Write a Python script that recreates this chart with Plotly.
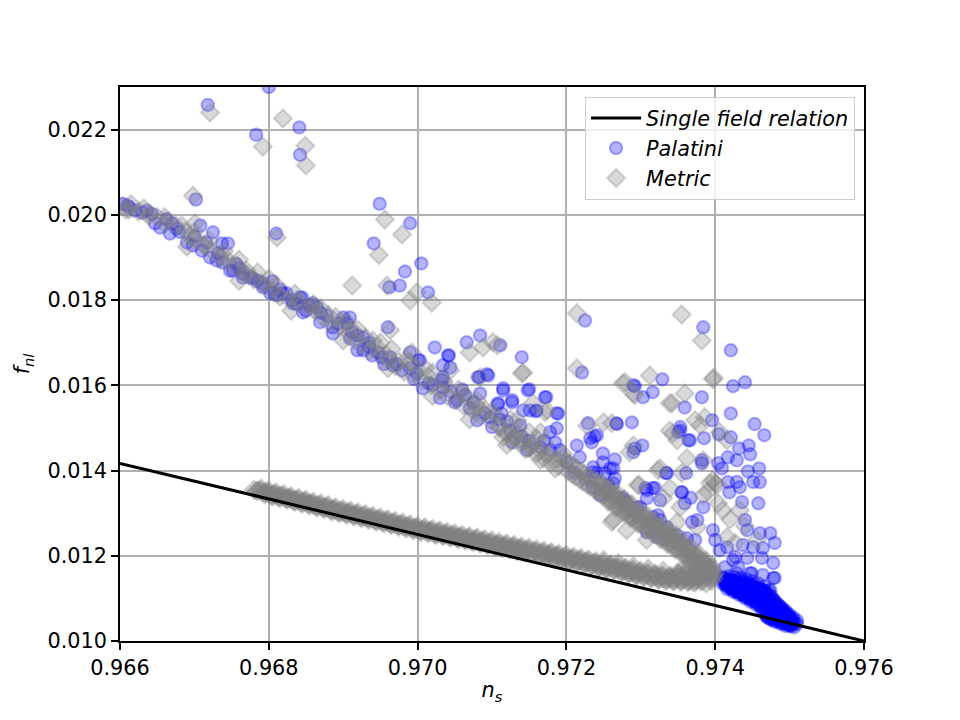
import plotly.graph_objects as go

# ---------------- data ----------------
# single-field consistency relation, end points
relation_ns = [0.966, 0.976]
relation_fnl = [0.014167, 0.010]

# Palatini: main diagonal band
palatini_band = [
    (0.96604, 0.02026), (0.96613, 0.02017), (0.96630, 0.02005), (0.96643, 0.02002), (0.96647, 0.01980),
    (0.96654, 0.01970), (0.96670, 0.01980), (0.96667, 0.01956), (0.96690, 0.01935), (0.96698, 0.01928),
    (0.96708, 0.01975), (0.96725, 0.01959), (0.96737, 0.01933), (0.96745, 0.01933), (0.96710, 0.01916),
    (0.96721, 0.01900), (0.96730, 0.01893), (0.96738, 0.01888), (0.96752, 0.01869), (0.96765, 0.01853),
    (0.96775, 0.01853), (0.96791, 0.01839), (0.96802, 0.01816), (0.96811, 0.01811), (0.96819, 0.01816),
    (0.96831, 0.01799), (0.96845, 0.01806), (0.96859, 0.01792), (0.96878, 0.01764), (0.96900, 0.01759),
    (0.96909, 0.01759), (0.96748, 0.01869), (0.96765, 0.01862), (0.96779, 0.01851), (0.96792, 0.01830),
    (0.96808, 0.01816), (0.96824, 0.01816), (0.96842, 0.01806), (0.96833, 0.01792), (0.96855, 0.01787),
    (0.96846, 0.01771), (0.96865, 0.01783), (0.96869, 0.01748), (0.96886, 0.01736), (0.96886, 0.01722),
    (0.96905, 0.01745), (0.96909, 0.01710), (0.96919, 0.01717), (0.96927, 0.01712), (0.96919, 0.01682),
    (0.96927, 0.01682), (0.96939, 0.01670), (0.96947, 0.01677), (0.96963, 0.01666), (0.96967, 0.01647),
    (0.96979, 0.01635), (0.96990, 0.01640), (0.96999, 0.01628), (0.97007, 0.01593), (0.97001, 0.01659),
    (0.97041, 0.01670), (0.97044, 0.01642), (0.97033, 0.01612), (0.97034, 0.01595), (0.97030, 0.01570),
    (0.97053, 0.01565), (0.97034, 0.01619), (0.97050, 0.01560), (0.97064, 0.01577), (0.97095, 0.01623),
    (0.97081, 0.01619), (0.97070, 0.01546), (0.97097, 0.01525), (0.97080, 0.01518), (0.97100, 0.01502),
    (0.97108, 0.01558), (0.97127, 0.01565), (0.97115, 0.01588), (0.97148, 0.01588), (0.97171, 0.01572),
    (0.97142, 0.01541), (0.97160, 0.01541), (0.97187, 0.01534), (0.97113, 0.01534), (0.97124, 0.01494),
    (0.97138, 0.01506), (0.97128, 0.01466), (0.97147, 0.01448), (0.97165, 0.01455), (0.97178, 0.01490),
    (0.97187, 0.01499), (0.97185, 0.01466), (0.97178, 0.01448), (0.97191, 0.01448), (0.97214, 0.01459),
    (0.97234, 0.01466), (0.97218, 0.01431), (0.97236, 0.01408), (0.97249, 0.01419), (0.97259, 0.01405),
    (0.97265, 0.01382), (0.97241, 0.01394), (0.97256, 0.01366), (0.97236, 0.01361), (0.97245, 0.01342),
    (0.97272, 0.01335), (0.97281, 0.01326), (0.97299, 0.01314), (0.97308, 0.01335), (0.97326, 0.01330),
    (0.97316, 0.01291), (0.97326, 0.01284), (0.97292, 0.01452), (0.97335, 0.01394), (0.97316, 0.01359),
    (0.97252, 0.01394), (0.97263, 0.01370), (0.97276, 0.01335), (0.97295, 0.01314), (0.97306, 0.01359),
    (0.97323, 0.01295), (0.97335, 0.01267), (0.97355, 0.01349), (0.97359, 0.01323), (0.97369, 0.01279),
    (0.97376, 0.01284), (0.97384, 0.01314), (0.97397, 0.01260), (0.97400, 0.01237), (0.97362, 0.01241),
    (0.97373, 0.01237), (0.97349, 0.01248), (0.97335, 0.01237), (0.97322, 0.01244), (0.97308, 0.01255),
    (0.97406, 0.01213), (0.97416, 0.01220), (0.97424, 0.01190), (0.97447, 0.01159), (0.97431, 0.01173),
    (0.97413, 0.01173), (0.97478, 0.01148), (0.96620, 0.02010), (0.96680, 0.01960), (0.96760, 0.01875),
    (0.96850, 0.01775), (0.96935, 0.01700), (0.96955, 0.01650), (0.97015, 0.01605), (0.97060, 0.01590),
    (0.97110, 0.01520), (0.97150, 0.01470), (0.97200, 0.01420), (0.97210, 0.01395), (0.97225, 0.01380),
    (0.96610, 0.02022), (0.96636, 0.02010), (0.96662, 0.01990), (0.96676, 0.01968), (0.96700, 0.01950),
    (0.96716, 0.01935), (0.96732, 0.01910), (0.96756, 0.01885), (0.96785, 0.01845), (0.96815, 0.01825),
    (0.96838, 0.01790), (0.96870, 0.01770), (0.96893, 0.01745), (0.96912, 0.01725), (0.96935, 0.01690),
    (0.96952, 0.01665), (0.96972, 0.01650), (0.96995, 0.01615), (0.97020, 0.01600), (0.97045, 0.01585),
    (0.97075, 0.01560), (0.97090, 0.01535), (0.97120, 0.01515), (0.97140, 0.01480), (0.97170, 0.01470),
]

# Palatini: scattered points above the band
palatini_scatter = [
    (0.96718, 0.02258), (0.96800, 0.02300), (0.96783, 0.02188), (0.96841, 0.02205), (0.96842, 0.02141),
    (0.96702, 0.02036), (0.96810, 0.01956), (0.96949, 0.02026), (0.96990, 0.01980), (0.96941, 0.01933),
    (0.97005, 0.01886), (0.96983, 0.01867), (0.96976, 0.01834), (0.96805, 0.01844), (0.96962, 0.01830),
    (0.97014, 0.01818), (0.96960, 0.01736), (0.97084, 0.01717), (0.97066, 0.01701), (0.97111, 0.01694),
    (0.97225, 0.01752), (0.97023, 0.01689), (0.97384, 0.01736), (0.97221, 0.01630), (0.97140, 0.01666),
    (0.97042, 0.01670), (0.96990, 0.01677), (0.97003, 0.01659), (0.97034, 0.01647), (0.97329, 0.01614),
    (0.97290, 0.01600), (0.97316, 0.01584), (0.97303, 0.01572), (0.97359, 0.01548), (0.97382, 0.01572),
    (0.97396, 0.01518), (0.97150, 0.01591), (0.97173, 0.01572), (0.97189, 0.01534), (0.97115, 0.01593),
    (0.97093, 0.01626), (0.97083, 0.01619), (0.97084, 0.01581), (0.97108, 0.01555), (0.97127, 0.01560),
    (0.97151, 0.01541), (0.97159, 0.01539), (0.97267, 0.01511), (0.97288, 0.01513), (0.97229, 0.01511),
    (0.97353, 0.01494), (0.97366, 0.01471), (0.97385, 0.01476), (0.97302, 0.01459), (0.97290, 0.01443),
    (0.97232, 0.01476), (0.97241, 0.01483), (0.97265, 0.01426), (0.97249, 0.01440), (0.97382, 0.01424),
    (0.97421, 0.01682), (0.97292, 0.01598), (0.97424, 0.01598), (0.97440, 0.01607), (0.97421, 0.01534),
    (0.97453, 0.01509), (0.97466, 0.01483), (0.97405, 0.01485), (0.97421, 0.01478), (0.97432, 0.01452),
    (0.97445, 0.01459), (0.97447, 0.01438), (0.97417, 0.01431), (0.97429, 0.01424), (0.97404, 0.01417),
    (0.97409, 0.01405), (0.97444, 0.01398), (0.97459, 0.01405), (0.97451, 0.01373), (0.97460, 0.01373),
    (0.97417, 0.01373), (0.97429, 0.01373), (0.97433, 0.01361), (0.97419, 0.01349), (0.97353, 0.01502),
    (0.97350, 0.01490), (0.97364, 0.01471), (0.97334, 0.01394), (0.97361, 0.01394), (0.97382, 0.01417),
    (0.97355, 0.01349), (0.97319, 0.01359), (0.97308, 0.01354), (0.97268, 0.01509), (0.97238, 0.01480),
    (0.97263, 0.01405), (0.97236, 0.01396), (0.97436, 0.01326), (0.97458, 0.01323), (0.97440, 0.01284),
    (0.97443, 0.01260), (0.97460, 0.01253), (0.97474, 0.01253), (0.97480, 0.01230), (0.97464, 0.01218),
    (0.97451, 0.01220), (0.97437, 0.01225), (0.97463, 0.01195), (0.97478, 0.01183), (0.97443, 0.01195),
    (0.97427, 0.01197), (0.97449, 0.01159), (0.97464, 0.01155), (0.97480, 0.01148), (0.97429, 0.01159),
    (0.97474, 0.01120), (0.97367, 0.01336),
]

# Palatini: dense cluster on the relation line
palatini_core = [
    (0.97412, 0.01140), (0.97416, 0.01132), (0.97420, 0.01144), (0.97422, 0.01126), (0.97426, 0.01138),
    (0.97428, 0.01120), (0.97432, 0.01132), (0.97434, 0.01143), (0.97436, 0.01114), (0.97440, 0.01126),
    (0.97442, 0.01137), (0.97444, 0.01108), (0.97448, 0.01120), (0.97450, 0.01131), (0.97452, 0.01102),
    (0.97456, 0.01114), (0.97458, 0.01125), (0.97460, 0.01096), (0.97463, 0.01108), (0.97466, 0.01118),
    (0.97468, 0.01094), (0.97414, 0.01136), (0.97424, 0.01130), (0.97438, 0.01120), (0.97446, 0.01114),
    (0.97454, 0.01108), (0.97462, 0.01100), (0.97466, 0.01085), (0.97468, 0.01070), (0.97470, 0.01058),
    (0.97474, 0.01080), (0.97476, 0.01065), (0.97478, 0.01054), (0.97482, 0.01074), (0.97484, 0.01060),
    (0.97486, 0.01050), (0.97490, 0.01066), (0.97492, 0.01054), (0.97494, 0.01045), (0.97497, 0.01058),
    (0.97499, 0.01047), (0.97501, 0.01038), (0.97504, 0.01048), (0.97505, 0.01040), (0.97500, 0.01036),
    (0.97472, 0.01075), (0.97480, 0.01066), (0.97488, 0.01060), (0.97496, 0.01050), (0.97470, 0.01090),
    (0.97410, 0.01150), (0.97418, 0.01152), (0.97426, 0.01150), (0.97434, 0.01148), (0.97442, 0.01145),
    (0.97450, 0.01140), (0.97458, 0.01135), (0.97466, 0.01128), (0.97472, 0.01118), (0.97476, 0.01105),
    (0.97480, 0.01095), (0.97485, 0.01085), (0.97490, 0.01078), (0.97495, 0.01070), (0.97500, 0.01062),
    (0.97505, 0.01055), (0.97510, 0.01048), (0.97510, 0.01040), (0.97506, 0.01032), (0.97495, 0.01035),
    (0.97488, 0.01040), (0.97480, 0.01045), (0.97475, 0.01050), (0.97468, 0.01060), (0.97462, 0.01075),
    (0.97455, 0.01085), (0.97448, 0.01092), (0.97440, 0.01100), (0.97432, 0.01108), (0.97424, 0.01115),
    (0.97416, 0.01122), (0.97445, 0.01125), (0.97435, 0.01130), (0.97455, 0.01118), (0.97465, 0.01110),
    (0.97475, 0.01090), (0.97485, 0.01070), (0.97495, 0.01058), (0.97500, 0.01050), (0.97478, 0.01078),
    (0.97488, 0.01068), (0.97412, 0.01146), (0.97418, 0.01138), (0.97424, 0.01142), (0.97430, 0.01136),
    (0.97436, 0.01140), (0.97442, 0.01130), (0.97448, 0.01134), (0.97454, 0.01126), (0.97460, 0.01120),
    (0.97464, 0.01114), (0.97470, 0.01104), (0.97474, 0.01096), (0.97478, 0.01088), (0.97482, 0.01082),
    (0.97486, 0.01076), (0.97490, 0.01070), (0.97494, 0.01064), (0.97498, 0.01056), (0.97502, 0.01050),
    (0.97507, 0.01044), (0.97430, 0.01115), (0.97438, 0.01108), (0.97446, 0.01102), (0.97452, 0.01096),
    (0.97458, 0.01090), (0.97464, 0.01082), (0.97470, 0.01068), (0.97476, 0.01060), (0.97482, 0.01052),
    (0.97490, 0.01046), (0.97498, 0.01042), (0.97420, 0.01124), (0.97426, 0.01118), (0.97444, 0.01118),
    (0.97452, 0.01112), (0.97460, 0.01106), (0.97468, 0.01100), (0.97472, 0.01084), (0.97480, 0.01074),
    (0.97492, 0.01062),
    # top edge of the cluster
    (0.97410, 0.01148), (0.97413, 0.01146), (0.97416, 0.01145), (0.97419, 0.01143), (0.97422, 0.01142),
    (0.97425, 0.01140), (0.97428, 0.01139), (0.97431, 0.01137), (0.97434, 0.01135), (0.97437, 0.01134),
    (0.97440, 0.01132), (0.97443, 0.01131), (0.97446, 0.01129), (0.97449, 0.01128), (0.97452, 0.01126),
    (0.97455, 0.01125), (0.97458, 0.01123), (0.97461, 0.01122), (0.97464, 0.01120), (0.97467, 0.01116),
    (0.97470, 0.01111), (0.97473, 0.01106), (0.97476, 0.01100), (0.97479, 0.01095), (0.97482, 0.01089),
    (0.97485, 0.01084), (0.97488, 0.01079), (0.97491, 0.01073), (0.97494, 0.01068), (0.97497, 0.01062),
    (0.97500, 0.01057), (0.97503, 0.01052),
    # middle of the cluster
    (0.97411, 0.01142), (0.97414, 0.01139), (0.97417, 0.01137), (0.97420, 0.01135), (0.97423, 0.01132),
    (0.97426, 0.01130), (0.97429, 0.01128), (0.97432, 0.01126), (0.97435, 0.01123), (0.97438, 0.01121),
    (0.97441, 0.01119), (0.97444, 0.01116), (0.97447, 0.01114), (0.97450, 0.01112), (0.97453, 0.01110),
    (0.97456, 0.01107), (0.97459, 0.01105), (0.97462, 0.01101), (0.97465, 0.01095), (0.97468, 0.01088),
    (0.97471, 0.01082), (0.97474, 0.01078), (0.97477, 0.01074), (0.97480, 0.01070), (0.97483, 0.01066),
    (0.97486, 0.01063), (0.97489, 0.01060), (0.97492, 0.01056), (0.97495, 0.01053), (0.97498, 0.01049),
    (0.97501, 0.01046), (0.97504, 0.01043),
    # bottom edge of the cluster
    (0.97410, 0.01135), (0.97413, 0.01132), (0.97416, 0.01129), (0.97419, 0.01126), (0.97422, 0.01123),
    (0.97425, 0.01120), (0.97428, 0.01117), (0.97431, 0.01114), (0.97434, 0.01111), (0.97437, 0.01108),
    (0.97440, 0.01105), (0.97443, 0.01102), (0.97446, 0.01099), (0.97449, 0.01096), (0.97452, 0.01093),
    (0.97455, 0.01090), (0.97458, 0.01087), (0.97461, 0.01082), (0.97464, 0.01073), (0.97467, 0.01064),
    (0.97470, 0.01055), (0.97473, 0.01053), (0.97476, 0.01051), (0.97479, 0.01050), (0.97482, 0.01048),
    (0.97485, 0.01046), (0.97488, 0.01044), (0.97491, 0.01042), (0.97494, 0.01040), (0.97497, 0.01039),
    (0.97500, 0.01037), (0.97503, 0.01035),
]

# Metric: scattered points
metric_scatter = [
    (0.96721, 0.02240), (0.96819, 0.02226), (0.96849, 0.02162), (0.96792, 0.02160), (0.96850, 0.02116),
    (0.96698, 0.02045), (0.96701, 0.01980), (0.96811, 0.01947), (0.96956, 0.01989), (0.96979, 0.01954),
    (0.96948, 0.01906), (0.96912, 0.01834), (0.96959, 0.01834), (0.96990, 0.01799), (0.96999, 0.01818),
    (0.97019, 0.01794), (0.97214, 0.01769), (0.96963, 0.01729), (0.97101, 0.01701), (0.97088, 0.01689),
    (0.97355, 0.01766), (0.97382, 0.01705), (0.97214, 0.01640), (0.97070, 0.01677), (0.97107, 0.01694),
    (0.97142, 0.01630), (0.97044, 0.01635), (0.96992, 0.01677), (0.97084, 0.01619), (0.97276, 0.01605),
    (0.97312, 0.01623), (0.97290, 0.01581), (0.97359, 0.01581), (0.97342, 0.01558), (0.97397, 0.01614),
    (0.97398, 0.01618), (0.97261, 0.01511), (0.97228, 0.01505), (0.97339, 0.01494), (0.97373, 0.01518),
    (0.97386, 0.01525), (0.97349, 0.01471), (0.97290, 0.01459), (0.97362, 0.01429), (0.97155, 0.01558),
    (0.97171, 0.01537), (0.97292, 0.01577), (0.97250, 0.01513), (0.97380, 0.01506), (0.97406, 0.01490),
    (0.97416, 0.01471), (0.97285, 0.01443), (0.97323, 0.01401), (0.97355, 0.01394), (0.97384, 0.01424),
    (0.97397, 0.01377), (0.97400, 0.01370), (0.97339, 0.01359), (0.97298, 0.01366), (0.97390, 0.01350),
    (0.97326, 0.01405), (0.97353, 0.01314), (0.97384, 0.01342), (0.97393, 0.01370), (0.97404, 0.01323),
    (0.97410, 0.01307), (0.97416, 0.01244), (0.97427, 0.01230), (0.97349, 0.01279), (0.97376, 0.01267),
    (0.97330, 0.01335), (0.97296, 0.01366), (0.97261, 0.01279), (0.97281, 0.01260), (0.97308, 0.01237),
    (0.97402, 0.01366), (0.97433, 0.01307), (0.97456, 0.01237), (0.97081, 0.01548), (0.97134, 0.01518),
    (0.97165, 0.01490), (0.97174, 0.01541), (0.97140, 0.01628), (0.97279, 0.01607), (0.97339, 0.01558),
    (0.97343, 0.01487), (0.97263, 0.01284), (0.97440, 0.01270), (0.97420, 0.01285),
]

# Metric: upper diagonal band
metric_band = [
    (0.96603, 0.02020), (0.96612, 0.02012), (0.96625, 0.02008), (0.96638, 0.01998), (0.96650, 0.01995),
    (0.96660, 0.01978), (0.96675, 0.01975), (0.96688, 0.01960), (0.96700, 0.01945), (0.96712, 0.01930),
    (0.96722, 0.01918), (0.96735, 0.01905), (0.96745, 0.01895), (0.96758, 0.01880), (0.96768, 0.01862),
    (0.96780, 0.01848), (0.96795, 0.01835), (0.96805, 0.01822), (0.96815, 0.01808), (0.96828, 0.01800),
    (0.96840, 0.01795), (0.96852, 0.01782), (0.96862, 0.01775), (0.96872, 0.01760), (0.96882, 0.01745),
    (0.96895, 0.01738), (0.96908, 0.01722), (0.96915, 0.01705), (0.96925, 0.01695), (0.96935, 0.01680),
    (0.96948, 0.01672), (0.96960, 0.01660), (0.96970, 0.01645), (0.96982, 0.01632), (0.96995, 0.01625),
    (0.97005, 0.01610), (0.97018, 0.01600), (0.97030, 0.01588), (0.97040, 0.01575), (0.97052, 0.01565),
    (0.97062, 0.01552), (0.97075, 0.01540), (0.97085, 0.01528), (0.97098, 0.01518), (0.97110, 0.01505),
    (0.97118, 0.01490), (0.97130, 0.01480), (0.97142, 0.01468), (0.97152, 0.01458), (0.97165, 0.01445),
    (0.97175, 0.01435), (0.97188, 0.01425), (0.97195, 0.01430), (0.97160, 0.01475), (0.97135, 0.01500),
    (0.97100, 0.01540), (0.97065, 0.01575), (0.97020, 0.01630), (0.96990, 0.01655), (0.96950, 0.01700),
    (0.96905, 0.01750), (0.96860, 0.01790), (0.96810, 0.01835), (0.96770, 0.01870), (0.96720, 0.01940),
    (0.97110, 0.01500), (0.97120, 0.01488), (0.97130, 0.01475), (0.97140, 0.01465), (0.97150, 0.01452),
    (0.97160, 0.01440), (0.97170, 0.01428), (0.97180, 0.01418), (0.97190, 0.01410), (0.97125, 0.01470),
    (0.97145, 0.01450), (0.97165, 0.01425), (0.97185, 0.01405), (0.97175, 0.01440), (0.97155, 0.01462),
    (0.97135, 0.01485), (0.97115, 0.01478), (0.96615, 0.02025), (0.96632, 0.02015), (0.96660, 0.01995),
    (0.96683, 0.01975), (0.96700, 0.01960), (0.96740, 0.01915), (0.96760, 0.01895), (0.96785, 0.01865),
    (0.96800, 0.01850), (0.96835, 0.01815), (0.96870, 0.01780), (0.96890, 0.01760), (0.96920, 0.01730),
    (0.96940, 0.01705), (0.96965, 0.01685), (0.96985, 0.01660), (0.97010, 0.01640), (0.97035, 0.01610),
    (0.97055, 0.01590), (0.97080, 0.01565), (0.97105, 0.01530), (0.97125, 0.01520), (0.97150, 0.01490),
    (0.97170, 0.01465), (0.97195, 0.01440), (0.96690, 0.01925), (0.96760, 0.01845), (0.96830, 0.01775),
    (0.96900, 0.01705), (0.96960, 0.01640), (0.97020, 0.01575), (0.97070, 0.01520), (0.97120, 0.01460),
    (0.96608, 0.02012), (0.96640, 0.02000), (0.96665, 0.01985), (0.96695, 0.01950), (0.96715, 0.01925),
    (0.96735, 0.01898), (0.96750, 0.01880), (0.96772, 0.01858), (0.96790, 0.01840), (0.96812, 0.01818),
    (0.96838, 0.01800), (0.96858, 0.01785), (0.96880, 0.01765), (0.96898, 0.01748), (0.96912, 0.01730),
    (0.96930, 0.01712), (0.96945, 0.01690), (0.96958, 0.01672), (0.96975, 0.01655), (0.96998, 0.01640),
    (0.97015, 0.01620), (0.97038, 0.01598), (0.97058, 0.01580), (0.97078, 0.01555), (0.97092, 0.01540),
]

# Metric: dense upper branch running into the junction
metric_branch = [
    (0.97200, 0.01422), (0.97205, 0.01416), (0.97210, 0.01410), (0.97215, 0.01404), (0.97220, 0.01398),
    (0.97225, 0.01392), (0.97230, 0.01386), (0.97235, 0.01380), (0.97240, 0.01374), (0.97245, 0.01368),
    (0.97250, 0.01362), (0.97255, 0.01355), (0.97260, 0.01349), (0.97265, 0.01342), (0.97270, 0.01336),
    (0.97275, 0.01329), (0.97280, 0.01323), (0.97285, 0.01316), (0.97290, 0.01310), (0.97295, 0.01303),
    (0.97300, 0.01297), (0.97305, 0.01291), (0.97310, 0.01285), (0.97315, 0.01279), (0.97320, 0.01273),
    (0.97325, 0.01267), (0.97330, 0.01261), (0.97335, 0.01255), (0.97340, 0.01249), (0.97345, 0.01243),
    (0.97350, 0.01237), (0.97355, 0.01229), (0.97360, 0.01222), (0.97365, 0.01214), (0.97370, 0.01207),
    (0.97375, 0.01199), (0.97380, 0.01192), (0.97385, 0.01184), (0.97390, 0.01176), (0.97395, 0.01168),
    (0.97400, 0.01160), (0.97202, 0.01398), (0.97208, 0.01391), (0.97212, 0.01386), (0.97218, 0.01379),
    (0.97222, 0.01374), (0.97228, 0.01367), (0.97232, 0.01362), (0.97238, 0.01355), (0.97242, 0.01350),
    (0.97248, 0.01343), (0.97252, 0.01338), (0.97258, 0.01330), (0.97262, 0.01325), (0.97268, 0.01317),
    (0.97272, 0.01312), (0.97278, 0.01304), (0.97282, 0.01299), (0.97288, 0.01291), (0.97292, 0.01286),
    (0.97298, 0.01278), (0.97302, 0.01273), (0.97308, 0.01266), (0.97312, 0.01261), (0.97318, 0.01254),
    (0.97322, 0.01249), (0.97328, 0.01242), (0.97332, 0.01237), (0.97338, 0.01230), (0.97342, 0.01225),
    (0.97348, 0.01218), (0.97352, 0.01213), (0.97358, 0.01205), (0.97362, 0.01199), (0.97368, 0.01191),
    (0.97372, 0.01185), (0.97378, 0.01176), (0.97382, 0.01170), (0.97388, 0.01162), (0.97392, 0.01156),
    (0.97398, 0.01148), (0.97372, 0.01160), (0.97376, 0.01175), (0.97380, 0.01140), (0.97382, 0.01190),
    (0.97385, 0.01165), (0.97388, 0.01135), (0.97390, 0.01180), (0.97392, 0.01150), (0.97395, 0.01140),
    (0.97396, 0.01175), (0.97398, 0.01155), (0.97378, 0.01150), (0.97370, 0.01138), (0.97365, 0.01170),
    (0.97360, 0.01160), (0.97355, 0.01165), (0.97350, 0.01158),
    (0.97243, 0.01360), (0.97253, 0.01346), (0.97263, 0.01333), (0.97273, 0.01320), (0.97283, 0.01307),
    (0.97293, 0.01294), (0.97303, 0.01281), (0.97313, 0.01270), (0.97323, 0.01258), (0.97333, 0.01246),
    (0.97343, 0.01234), (0.97353, 0.01220), (0.97363, 0.01205), (0.97373, 0.01190), (0.97383, 0.01175),
    (0.97393, 0.01160), (0.97248, 0.01372), (0.97258, 0.01360), (0.97268, 0.01347), (0.97278, 0.01334),
    (0.97288, 0.01321), (0.97298, 0.01308), (0.97308, 0.01296), (0.97318, 0.01284), (0.97328, 0.01272),
    (0.97338, 0.01260), (0.97348, 0.01248), (0.97358, 0.01234), (0.97368, 0.01219), (0.97378, 0.01204),
    (0.97388, 0.01188),
    (0.97251, 0.01355), (0.97261, 0.01342), (0.97271, 0.01329), (0.97281, 0.01316), (0.97291, 0.01303),
    (0.97301, 0.01290), (0.97311, 0.01278), (0.97321, 0.01266), (0.97331, 0.01254), (0.97341, 0.01242),
    (0.97351, 0.01230), (0.97361, 0.01215), (0.97371, 0.01200), (0.97381, 0.01185), (0.97391, 0.01169),
    (0.97256, 0.01327), (0.97266, 0.01314), (0.97276, 0.01301), (0.97286, 0.01288), (0.97296, 0.01275),
    (0.97306, 0.01263), (0.97316, 0.01251), (0.97326, 0.01239), (0.97336, 0.01227), (0.97346, 0.01215),
    (0.97356, 0.01202), (0.97366, 0.01187), (0.97376, 0.01172), (0.97386, 0.01158),
]

# Metric: dense lower branch just above the relation line
metric_lower_ns = [
    0.96780, 0.96785, 0.96790, 0.96795, 0.96800, 0.96805, 0.96810, 0.96815, 0.96820, 0.96825,
    0.96830, 0.96835, 0.96840, 0.96845, 0.96850, 0.96855, 0.96860, 0.96865, 0.96870, 0.96875,
    0.96880, 0.96885, 0.96890, 0.96895, 0.96900, 0.96905, 0.96910, 0.96915, 0.96920, 0.96925,
    0.96930, 0.96935, 0.96940, 0.96945, 0.96950, 0.96955, 0.96960, 0.96965, 0.96970, 0.96975,
    0.96980, 0.96985, 0.96990, 0.96995, 0.97000, 0.97005, 0.97010, 0.97015, 0.97020, 0.97025,
    0.97030, 0.97035, 0.97040, 0.97045, 0.97050, 0.97055, 0.97060, 0.97065, 0.97070, 0.97075,
    0.97080, 0.97085, 0.97090, 0.97095, 0.97100, 0.97105, 0.97110, 0.97115, 0.97120, 0.97125,
    0.97130, 0.97135, 0.97140, 0.97145, 0.97150, 0.97155, 0.97160, 0.97165, 0.97170, 0.97175,
    0.97180, 0.97185, 0.97190, 0.97195, 0.97200, 0.97205, 0.97210, 0.97215, 0.97220, 0.97225,
    0.97230, 0.97235, 0.97240, 0.97245, 0.97250, 0.97255, 0.97260, 0.97265, 0.97270, 0.97275,
    0.97280, 0.97285, 0.97290, 0.97295, 0.97300, 0.97305, 0.97310, 0.97315, 0.97320, 0.97325,
    0.97330, 0.97335, 0.97340, 0.97345, 0.97350, 0.97355, 0.97360, 0.97365, 0.97370, 0.97375,
    0.97380, 0.97385, 0.97390, 0.97395,
    0.96783, 0.96793, 0.96803, 0.96813, 0.96823, 0.96833, 0.96843, 0.96853, 0.96863, 0.96873,
    0.96883, 0.96893, 0.96903, 0.96913, 0.96923, 0.96933, 0.96943, 0.96953, 0.96963, 0.96973,
    0.96983, 0.96993, 0.97003, 0.97013, 0.97023, 0.97033, 0.97043, 0.97053, 0.97063, 0.97073,
    0.97083, 0.97093, 0.97103, 0.97113, 0.97123, 0.97133, 0.97143, 0.97153, 0.97163, 0.97173,
    0.97183, 0.97193, 0.97203, 0.97213, 0.97223, 0.97233, 0.97243, 0.97253, 0.97263, 0.97273,
    0.97283, 0.97293, 0.97303, 0.97313, 0.97323, 0.97333, 0.97343, 0.97353, 0.97363, 0.97373,
    0.97383, 0.97393,
    0.96788, 0.96798, 0.96808, 0.96818, 0.96828, 0.96838, 0.96848, 0.96858, 0.96868, 0.96878,
    0.96888, 0.96898, 0.96908, 0.96918, 0.96928, 0.96938, 0.96948, 0.96958, 0.96968, 0.96978,
    0.96988, 0.96998, 0.97008, 0.97018, 0.97028, 0.97038, 0.97048, 0.97058, 0.97068, 0.97078,
    0.97088, 0.97098, 0.97108, 0.97118, 0.97128, 0.97138, 0.97148, 0.97158, 0.97168, 0.97178,
    0.97188, 0.97198, 0.97208, 0.97218, 0.97228, 0.97238, 0.97248, 0.97258, 0.97268, 0.97278,
    0.97288, 0.97298, 0.97308, 0.97318, 0.97328, 0.97338, 0.97348, 0.97358, 0.97368, 0.97378,
    0.97388,
    0.97250, 0.97270, 0.97290, 0.97310, 0.97330, 0.97350, 0.97365,
    0.96790, 0.96800, 0.96810, 0.96820, 0.96830, 0.96840, 0.96850, 0.96860, 0.96870, 0.96880,
    0.96890, 0.96900, 0.96910, 0.96920, 0.96930, 0.96940, 0.96950, 0.96960, 0.96970, 0.96980,
    0.96990, 0.97000, 0.97010, 0.97020, 0.97030, 0.97040, 0.97050, 0.97060, 0.97070, 0.97080,
    0.97090, 0.97100, 0.97110, 0.97120, 0.97130, 0.97140, 0.97150, 0.97160, 0.97170, 0.97180,
    0.97190, 0.97200, 0.97210, 0.97220, 0.97230, 0.97240, 0.97250, 0.97260, 0.97270, 0.97280,
    0.97290, 0.97300, 0.97310, 0.97320, 0.97330, 0.97340, 0.97350, 0.97360, 0.97370, 0.97380,
    0.97390,
    0.96795, 0.96805, 0.96815, 0.96825, 0.96835, 0.96845, 0.96855, 0.96865, 0.96875, 0.96885,
    0.96895, 0.96905, 0.96915, 0.96925, 0.96935, 0.96945, 0.96955, 0.96965, 0.96975, 0.96985,
    0.96995, 0.97005, 0.97015, 0.97025, 0.97035, 0.97045, 0.97055, 0.97065, 0.97075, 0.97085,
    0.97095, 0.97105, 0.97115, 0.97125, 0.97135, 0.97145, 0.97155, 0.97165, 0.97175, 0.97185,
    0.97195, 0.97205, 0.97215, 0.97225, 0.97235, 0.97245, 0.97255, 0.97265, 0.97275, 0.97285,
    0.97295, 0.97305, 0.97315, 0.97325, 0.97335, 0.97345, 0.97355, 0.97365, 0.97375, 0.97385,
]
metric_lower_fnl = [
    0.01355, 0.01353, 0.01351, 0.01349, 0.01346, 0.01344, 0.01342, 0.01340, 0.01338, 0.01336,
    0.01333, 0.01331, 0.01329, 0.01327, 0.01325, 0.01323, 0.01320, 0.01318, 0.01316, 0.01314,
    0.01312, 0.01309, 0.01307, 0.01305, 0.01303, 0.01301, 0.01299, 0.01297, 0.01295, 0.01293,
    0.01291, 0.01289, 0.01287, 0.01285, 0.01283, 0.01281, 0.01279, 0.01277, 0.01275, 0.01273,
    0.01271, 0.01269, 0.01267, 0.01265, 0.01263, 0.01261, 0.01260, 0.01258, 0.01256, 0.01254,
    0.01253, 0.01251, 0.01249, 0.01248, 0.01246, 0.01244, 0.01242, 0.01241, 0.01239, 0.01237,
    0.01236, 0.01234, 0.01232, 0.01230, 0.01229, 0.01227, 0.01225, 0.01224, 0.01222, 0.01220,
    0.01219, 0.01217, 0.01215, 0.01213, 0.01212, 0.01210, 0.01208, 0.01207, 0.01205, 0.01203,
    0.01202, 0.01200, 0.01198, 0.01196, 0.01195, 0.01193, 0.01191, 0.01190, 0.01188, 0.01186,
    0.01184, 0.01182, 0.01180, 0.01178, 0.01176, 0.01174, 0.01173, 0.01171, 0.01169, 0.01167,
    0.01165, 0.01163, 0.01161, 0.01159, 0.01158, 0.01156, 0.01154, 0.01152, 0.01151, 0.01149,
    0.01147, 0.01147, 0.01146, 0.01146, 0.01146, 0.01145, 0.01145, 0.01145, 0.01147, 0.01150,
    0.01152, 0.01155, 0.01160, 0.01165,
    0.01352, 0.01348, 0.01342, 0.01338, 0.01334, 0.01329, 0.01325, 0.01321, 0.01316, 0.01312,
    0.01307, 0.01303, 0.01299, 0.01295, 0.01291, 0.01287, 0.01283, 0.01279, 0.01275, 0.01271,
    0.01267, 0.01263, 0.01258, 0.01255, 0.01251, 0.01248, 0.01244, 0.01241, 0.01237, 0.01234,
    0.01230, 0.01227, 0.01223, 0.01219, 0.01216, 0.01212, 0.01209, 0.01205, 0.01202, 0.01198,
    0.01195, 0.01191, 0.01188, 0.01184, 0.01181, 0.01177, 0.01173, 0.01169, 0.01166, 0.01162,
    0.01158, 0.01154, 0.01151, 0.01148, 0.01145, 0.01142, 0.01140, 0.01139, 0.01138, 0.01138,
    0.01140, 0.01145,
    0.01354, 0.01349, 0.01345, 0.01341, 0.01336, 0.01332, 0.01328, 0.01323, 0.01319, 0.01315,
    0.01310, 0.01306, 0.01302, 0.01298, 0.01294, 0.01290, 0.01286, 0.01282, 0.01278, 0.01274,
    0.01270, 0.01266, 0.01263, 0.01259, 0.01256, 0.01252, 0.01249, 0.01245, 0.01242, 0.01239,
    0.01235, 0.01232, 0.01228, 0.01225, 0.01222, 0.01218, 0.01215, 0.01211, 0.01208, 0.01205,
    0.01201, 0.01198, 0.01194, 0.01191, 0.01188, 0.01184, 0.01180, 0.01177, 0.01173, 0.01169,
    0.01166, 0.01162, 0.01159, 0.01156, 0.01153, 0.01151, 0.01150, 0.01150, 0.01152, 0.01156,
    0.01162,
    0.01190, 0.01183, 0.01176, 0.01170, 0.01165, 0.01162, 0.01165,
    0.01358, 0.01353, 0.01349, 0.01345, 0.01340, 0.01336, 0.01332, 0.01327, 0.01323, 0.01319,
    0.01314, 0.01310, 0.01306, 0.01302, 0.01298, 0.01294, 0.01290, 0.01286, 0.01282, 0.01278,
    0.01274, 0.01270, 0.01267, 0.01263, 0.01260, 0.01256, 0.01253, 0.01249, 0.01246, 0.01243,
    0.01239, 0.01236, 0.01232, 0.01229, 0.01226, 0.01222, 0.01219, 0.01215, 0.01212, 0.01209,
    0.01205, 0.01202, 0.01198, 0.01195, 0.01191, 0.01187, 0.01183, 0.01180, 0.01176, 0.01172,
    0.01168, 0.01165, 0.01161, 0.01158, 0.01154, 0.01153, 0.01153, 0.01152, 0.01154, 0.01159,
    0.01167,
    0.01344, 0.01339, 0.01335, 0.01331, 0.01326, 0.01322, 0.01318, 0.01313, 0.01309, 0.01304,
    0.01300, 0.01296, 0.01292, 0.01288, 0.01284, 0.01280, 0.01276, 0.01272, 0.01268, 0.01264,
    0.01260, 0.01256, 0.01253, 0.01249, 0.01246, 0.01243, 0.01239, 0.01236, 0.01232, 0.01229,
    0.01225, 0.01222, 0.01219, 0.01215, 0.01212, 0.01208, 0.01205, 0.01202, 0.01198, 0.01195,
    0.01191, 0.01188, 0.01185, 0.01181, 0.01177, 0.01173, 0.01169, 0.01166, 0.01162, 0.01158,
    0.01154, 0.01151, 0.01147, 0.01144, 0.01142, 0.01141, 0.01140, 0.01140, 0.01143, 0.01148,
]

x_ticks = [0.966, 0.968, 0.970, 0.972, 0.974, 0.976]
y_ticks = [0.010, 0.012, 0.014, 0.016, 0.018, 0.020, 0.022]

# ---------------- assemble ----------------
pal_pts = palatini_band + palatini_scatter + palatini_core
pal_ns = [p[0] for p in pal_pts]
pal_fnl = [p[1] for p in pal_pts]

met_pts = metric_band + metric_scatter + metric_branch
met_ns = [p[0] for p in met_pts] + metric_lower_ns
met_fnl = [p[1] for p in met_pts] + metric_lower_fnl

FONT = "DejaVu Sans"
FS = 20.8

fig = go.Figure()
fig.add_trace(go.Scatter(
    x=pal_ns, y=pal_fnl, mode="markers", name="<i>Palatini</i>", legendrank=2,
    marker=dict(symbol="circle", size=12.5, color="rgba(0,0,255,0.3)",
                line=dict(color="rgba(0,0,255,0.3)", width=2)),
))
fig.add_trace(go.Scatter(
    x=met_ns, y=met_fnl, mode="markers", name="<i>Metric</i>", legendrank=3,
    marker=dict(symbol="diamond", size=14, color="rgba(128,128,128,0.3)",
                line=dict(color="rgba(128,128,128,0.3)", width=2)),
))
fig.add_trace(go.Scatter(
    x=relation_ns, y=relation_fnl, mode="lines", name="<i>Single field relation</i>",
    legendrank=1, line=dict(color="black", width=3),
))

axis_common = dict(
    showline=True, linecolor="black", linewidth=1.6, mirror=True,
    ticks="outside", ticklen=7, tickwidth=1.6, tickcolor="black",
    showgrid=True, gridcolor="#b0b0b0", gridwidth=1.6, zeroline=False,
    tickfont=dict(family=FONT, size=FS, color="black"),
    tickformat=".3f",
)
fig.update_xaxes(range=[0.966, 0.976], tickvals=x_ticks,
                 title=dict(text="<i>n</i><sub><i>s</i></sub>", standoff=4,
                            font=dict(family=FONT, size=FS, color="black")),
                 **axis_common)
fig.update_yaxes(range=[0.010, 0.023], tickvals=y_ticks,
                 title=dict(text="<i>f</i><sub><i>nl</i></sub>", standoff=12,
                            font=dict(family=FONT, size=FS, color="black")),
                 **axis_common)

# the page adds an 8 px offset, so margins are shifted to land the axes where the reference has them
fig.update_layout(
    width=960, height=720,
    margin=dict(l=112, r=104, t=79, b=87),
    plot_bgcolor="white", paper_bgcolor="white",
    font=dict(family=FONT, size=FS, color="black"),
    legend=dict(x=0.988, xanchor="right", y=0.982, yanchor="top",
                bgcolor="rgba(255,255,255,0.8)", bordercolor="#cccccc", borderwidth=1,
                itemwidth=50,
                font=dict(family=FONT, size=FS, color="black")),
    showlegend=True,
)

fig.write_html("out.html")
